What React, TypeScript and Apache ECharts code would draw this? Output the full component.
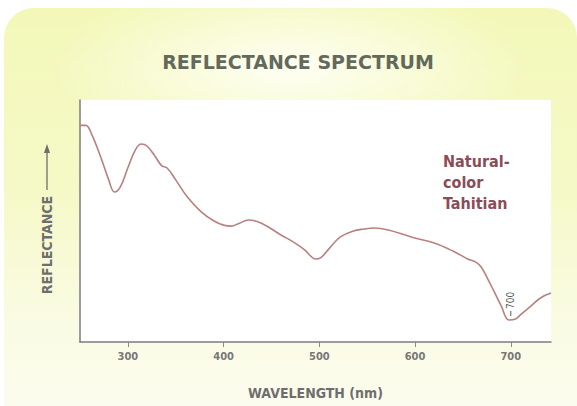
import React, { useEffect, useRef } from "react";
import * as echarts from "echarts";

const wavelengths = [
  250, 256, 262, 272, 280, 286, 292, 300, 308, 314, 320, 328, 335, 341, 350, 362, 376, 390, 400, 408,
  416, 426, 440, 460, 473, 485, 491, 496, 502, 510, 522, 535, 547, 557, 572, 596, 620, 640, 655, 663,
  669, 676, 683, 690, 698, 705, 710, 720, 731, 742,
];
const reflectance = [
  89.5, 89.5, 86, 76, 67, 62, 64, 72, 79.5, 81.8, 81, 77, 73, 71.9, 67, 60, 54, 50, 48.3, 47.9,
  49, 50.4, 49, 44.2, 41.3, 38, 35.5, 34.3, 35, 38.5, 43.4, 45.8, 46.7, 47.1, 46.3, 43.4, 40.9, 37.5, 34.3, 33.1,
  31, 26, 20.5, 14.9, 9.1, 9.5, 11.2, 14.5, 18.2, 20.2,
];
const tickValues = [300, 400, 500, 600, 700];
const annotationWavelength = 700;
const annotationLabel = "700";
const legendLines = ["Natural-", "color", "Tahitian"];
const titleText = "REFLECTANCE SPECTRUM";
const xAxisTitle = "WAVELENGTH (nm)";
const yAxisTitle = "REFLECTANCE";

const condensed =
  "'Liberation Sans Narrow', 'DejaVu Sans Condensed', 'Roboto Condensed', 'Open Sans', sans-serif";

export default function App() {
  const ref = useRef<HTMLDivElement>(null);

  useEffect(() => {
    const chart = echarts.init(ref.current!, null, { renderer: "svg" });
    const data = wavelengths.map((w, i) => [w, reflectance[i]]);
    chart.setOption({
      animation: false,
      backgroundColor: "transparent",
      title: {
        text: titleText,
        left: 293,
        textAlign: "center",
        top: 47,
        textStyle: {
          fontFamily: "'DejaVu Sans', Lato, sans-serif",
          fontSize: 19,
          fontWeight: "bold",
          color: "#646a5b",
        },
      },
      grid: {
        left: 80,
        right: 26,
        top: 100,
        bottom: 64,
        show: true,
        backgroundColor: "#ffffff",
        borderWidth: 0,
      },
      xAxis: {
        type: "value",
        min: 250,
        max: 742,
        name: xAxisTitle,
        nameLocation: "middle",
        nameGap: 44,
        nameTextStyle: {
          fontFamily: condensed,
          fontSize: 14,
          fontWeight: "bold",
          color: "#6e6e6e",
        },
        axisLine: { show: true, lineStyle: { color: "#7d7d7d", width: 1.5 } },
        axisTick: {
          show: true,
          length: 5,
          customValues: tickValues,
          lineStyle: { color: "#8a8a8a", width: 1 },
        },
        axisLabel: {
          show: true,
          customValues: tickValues,
          margin: 9,
          fontFamily: condensed,
          fontSize: 11,
          fontWeight: "bold",
          color: "#777777",
        },
        splitLine: { show: false },
      },
      yAxis: {
        type: "value",
        min: 0,
        max: 100,
        axisLine: { show: true, onZero: false, lineStyle: { color: "#7d7d7d", width: 1.5 } },
        axisTick: { show: false },
        axisLabel: { show: false },
        splitLine: { show: false },
      },
      series: [
        {
          type: "line",
          data,
          smooth: 0.4,
          showSymbol: false,
          symbol: "none",
          lineStyle: { color: "#b8807f", width: 1.6 },
        },
      ],
    });

    const minIdx = wavelengths.indexOf(698);
    const anchor = chart.convertToPixel({ gridIndex: 0 }, [
      annotationWavelength,
      reflectance[minIdx],
    ]) as number[];
    const ax = anchor[0];
    const ay = anchor[1];

    chart.setOption({
      graphic: [
        {
          type: "text",
          id: "legend",
          x: 443,
          y: 151,
          style: {
            text: legendLines.join("\n"),
            fontFamily: condensed,
            fontSize: 16,
            fontWeight: "bold",
            lineHeight: 21,
            fill: "#8b4c58",
            align: "left",
            verticalAlign: "top",
          },
        },
        {
          type: "text",
          id: "ytitle",
          x: 47,
          y: 245,
          rotation: Math.PI / 2,
          style: {
            text: yAxisTitle,
            fontFamily: condensed,
            fontSize: 14,
            fontWeight: "bold",
            fill: "#6e6e6e",
            align: "center",
            verticalAlign: "middle",
          },
        },
        {
          type: "line",
          id: "yarrow",
          shape: { x1: 47, y1: 190, x2: 47, y2: 150 },
          style: { stroke: "#6e6e6e", lineWidth: 1.3 },
        },
        {
          type: "polygon",
          id: "yarrowhead",
          shape: { points: [[47, 144], [44, 153], [50, 153]] },
          style: { fill: "#6e6e6e" },
        },
        {
          type: "line",
          id: "anndash",
          shape: { x1: ax, y1: ay - 4, x2: ax, y2: ay - 9 },
          style: { stroke: "#555555", lineWidth: 1 },
        },
        {
          type: "text",
          id: "anntext",
          x: ax,
          y: ay - 11,
          rotation: Math.PI / 2,
          style: {
            text: annotationLabel,
            fontFamily: condensed,
            fontSize: 10,
            fill: "#555555",
            align: "left",
            verticalAlign: "middle",
          },
        },
      ],
    });

    return () => chart.dispose();
  }, []);

  return (
    <div
      style={{
        position: "fixed",
        left: 0,
        top: 0,
        width: 577,
        height: 406,
        background: "#ffffff",
        overflow: "hidden",
      }}
    >
      <div
        style={{
          position: "absolute",
          left: 4,
          top: 8,
          width: 573,
          height: 398,
          borderRadius: "30px 30px 0 0",
          background:
            "radial-gradient(ellipse 42% 22% at 50% 15%, rgba(255,255,246,0.95) 0%, rgba(255,255,246,0) 100%), linear-gradient(to bottom, #f3f8b9 0%, #f5f9c6 45%, #fafbe4 80%, #fcfcee 100%)",
        }}
      />
      <div
        ref={ref}
        style={{ position: "absolute", left: 0, top: 0, width: 577, height: 406 }}
      />
    </div>
  );
}
